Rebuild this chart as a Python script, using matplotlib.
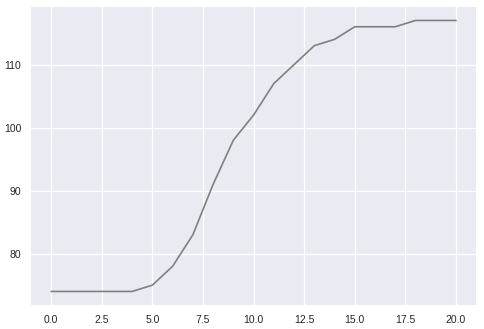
import matplotlib
matplotlib.use('Agg')
import matplotlib.pyplot as plt

plt.style.use('seaborn-v0_8')

# values
x = list(range(21))
y = [74, 74, 74, 74, 74, 75, 78, 83, 91, 98, 102, 107, 110, 113, 114,
     116, 116, 116, 117, 117, 117]

fig, ax = plt.subplots(figsize=(4.84, 3.29), dpi=100)
ax.plot(x, y, color='gray', linewidth=1.2)
ax.tick_params(labelsize=7.5)
ax.grid(linewidth=0.9)

fig.subplots_adjust(left=0.064, right=0.984, top=0.979, bottom=0.073)
fig.savefig('out.png', dpi=100)
